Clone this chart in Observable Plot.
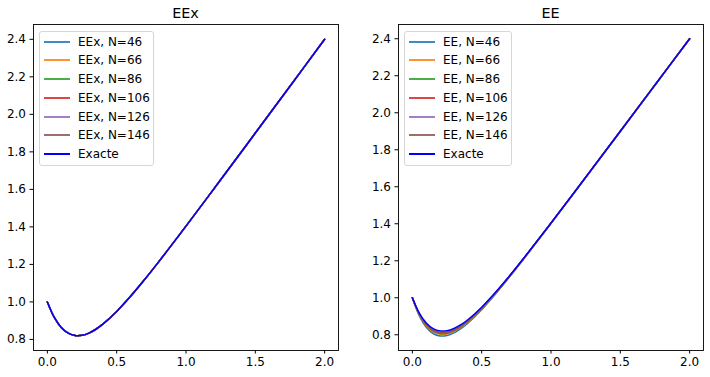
<!DOCTYPE html>
<html><head><meta charset="utf-8">
<script src="https://cdn.jsdelivr.net/npm/d3@7"></script>
<script src="https://cdn.jsdelivr.net/npm/@observablehq/plot@0.6"></script>
<style>
body{margin:0;background:#fff;font-family:"DejaVu Sans",sans-serif;color:#000;}
#root{position:relative;width:710px;height:377px;overflow:hidden;}
.panel{position:absolute;top:0;width:355px;height:377px;}
.panel svg{position:absolute;left:0;top:0;}
.title{position:absolute;top:4px;font-size:14.4px;line-height:18px;text-align:center;}
.legend{position:absolute;top:31px;height:135px;border:1px solid #d6d6d6;border-radius:3px;background:rgba(255,255,255,0.8);box-sizing:border-box;}
.row{position:absolute;left:0;height:18px;font-size:12px;line-height:18px;white-space:nowrap;}
.swatch{position:absolute;left:4px;top:8px;width:26px;height:2px;}
.lab{position:absolute;left:38px;top:0;}
</style>
</head><body><div id="root"></div>
<script>
// x sample positions
const xs = [0, 0.05, 0.1, 0.15, 0.2, 0.25, 0.3, 0.35, 0.4, 0.5, 0.6, 0.7, 0.8, 1.0, 1.25, 1.5, 1.75, 2.0];
// Exact solution
const exacte = [1.0, 0.9173, 0.8639, 0.8334, 0.8207, 0.8219, 0.8339, 0.8543, 0.8812, 0.9492, 1.0299, 1.1181, 1.2110, 1.4040, 1.6512, 1.9003, 2.1500, 2.4000];
// EEx (left panel) : visually identical to the exact curve for all N
const eex46  = [1.0, 0.9173, 0.8639, 0.8334, 0.8207, 0.8219, 0.8339, 0.8543, 0.8812, 0.9492, 1.0299, 1.1181, 1.2110, 1.4040, 1.6512, 1.9003, 2.1500, 2.4000];
const eex66  = [1.0, 0.9173, 0.8639, 0.8334, 0.8207, 0.8219, 0.8339, 0.8543, 0.8812, 0.9492, 1.0299, 1.1181, 1.2110, 1.4040, 1.6512, 1.9003, 2.1500, 2.4000];
const eex86  = [1.0, 0.9173, 0.8639, 0.8334, 0.8207, 0.8219, 0.8339, 0.8543, 0.8812, 0.9492, 1.0299, 1.1181, 1.2110, 1.4040, 1.6512, 1.9003, 2.1500, 2.4000];
const eex106 = [1.0, 0.9173, 0.8639, 0.8334, 0.8207, 0.8219, 0.8339, 0.8543, 0.8812, 0.9492, 1.0299, 1.1181, 1.2110, 1.4040, 1.6512, 1.9003, 2.1500, 2.4000];
const eex126 = [1.0, 0.9173, 0.8639, 0.8334, 0.8207, 0.8219, 0.8339, 0.8543, 0.8812, 0.9492, 1.0299, 1.1181, 1.2110, 1.4040, 1.6512, 1.9003, 2.1500, 2.4000];
const eex146 = [1.0, 0.9173, 0.8639, 0.8334, 0.8207, 0.8219, 0.8339, 0.8543, 0.8812, 0.9492, 1.0299, 1.1181, 1.2110, 1.4040, 1.6512, 1.9003, 2.1500, 2.4000];
// EE (right panel)
const ee46  = [1.0, 0.9022, 0.8409, 0.8069, 0.7936, 0.7959, 0.8100, 0.8329, 0.8625, 0.9355, 1.0202, 1.1115, 1.2065, 1.4021, 1.6503, 1.9001, 2.1500, 2.4000];
const ee66  = [1.0, 0.9074, 0.8487, 0.8158, 0.8026, 0.8044, 0.8177, 0.8397, 0.8684, 0.9397, 1.0231, 1.1134, 1.2078, 1.4026, 1.6507, 1.9002, 2.1500, 2.4000];
const ee86  = [1.0, 0.9099, 0.8525, 0.8202, 0.8071, 0.8087, 0.8217, 0.8432, 0.8715, 0.9420, 1.0247, 1.1145, 1.2085, 1.4029, 1.6508, 1.9002, 2.1500, 2.4000];
const ee106 = [1.0, 0.9114, 0.8548, 0.8228, 0.8098, 0.8113, 0.8240, 0.8454, 0.8733, 0.9434, 1.0256, 1.1152, 1.2090, 1.4031, 1.6509, 1.9002, 2.1500, 2.4000];
const ee126 = [1.0, 0.9124, 0.8563, 0.8246, 0.8116, 0.8130, 0.8256, 0.8468, 0.8746, 0.9443, 1.0263, 1.1156, 1.2093, 1.4033, 1.6509, 1.9002, 2.1500, 2.4000];
const ee146 = [1.0, 0.9131, 0.8574, 0.8258, 0.8129, 0.8143, 0.8268, 0.8479, 0.8755, 0.9450, 1.0268, 1.1160, 1.2095, 1.4034, 1.6509, 1.9002, 2.1500, 2.4000];

const Ns = [46, 66, 86, 106, 126, 146];
const colors = ["#1f77b4", "#ff7f0e", "#2ca02c", "#d62728", "#9467bd", "#8c564b"];
const exactColor = "#0000ff";
const xTicks = [0, 0.5, 1.0, 1.5, 2.0];
const yTicks = [0.8, 1.0, 1.2, 1.4, 1.6, 1.8, 2.0, 2.2, 2.4];

function rows(vals){ return xs.map((x,i)=>({x, y: vals[i]})); }

function panel(opts){
  const {left, title, prefix, series, ml, mr, ydom, legW} = opts;
  const div = document.createElement("div");
  div.className = "panel";
  div.style.left = left + "px";
  const marks = [];
  series.forEach((s,i)=>{
    marks.push(Plot.line(rows(s), {x:"x", y:"y", stroke: colors[i], strokeWidth:1.5, curve:"catmull-rom"}));
  });
  marks.push(Plot.line(rows(exacte), {x:"x", y:"y", stroke: exactColor, strokeWidth:1.5, curve:"catmull-rom"}));
  marks.push(Plot.frame({stroke:"#000", strokeWidth:0.9}));
  marks.push(Plot.axisX({ticks:xTicks, tickFormat:d3.format(".1f"), tickSize:3.5, tickPadding:3, fontSize:12, label:null, stroke:"#000"}));
  marks.push(Plot.axisY({ticks:yTicks, tickFormat:d3.format(".1f"), tickSize:3.5, tickPadding:4, fontSize:12, label:null, stroke:"#000"}));
  const svg = Plot.plot({
    width:355, height:377,
    marginTop:24, marginBottom:27, marginLeft:ml, marginRight:mr,
    x:{domain:[-0.1,2.1]},
    y:{domain:ydom},
    style:{fontFamily:"DejaVu Sans", fontSize:"12px", color:"#000", background:"transparent"},
    marks
  });
  div.appendChild(svg);
  const t = document.createElement("div");
  t.className = "title";
  t.style.left = ml + "px";
  t.style.width = (355 - ml - mr) + "px";
  t.textContent = title;
  div.appendChild(t);
  const lg = document.createElement("div");
  lg.className = "legend";
  lg.style.left = (ml + 6) + "px";
  lg.style.width = legW + "px";
  const labels = Ns.map(n => `${prefix}, N=${n}`).concat(["Exacte"]);
  const cols = colors.concat([exactColor]);
  labels.forEach((lab,i)=>{
    const r = document.createElement("div");
    r.className = "row";
    r.style.top = (0.7 + i*18.7) + "px";
    const sw = document.createElement("div");
    sw.className = "swatch";
    sw.style.background = cols[i];
    sw.style.opacity = i < 6 ? 0.85 : 1;
    const tx = document.createElement("div");
    tx.className = "lab";
    tx.textContent = lab;
    r.appendChild(sw); r.appendChild(tx);
    lg.appendChild(r);
  });
  div.appendChild(lg);
  document.getElementById("root").appendChild(div);
}

panel({left:0, title:"EEx", prefix:"EEx", series:[eex46,eex66,eex86,eex106,eex126,eex146], ml:33, mr:17, ydom:[0.741,2.479], legW:115});
panel({left:355, title:"EE", prefix:"EE", series:[ee46,ee66,ee86,ee106,ee126,ee146], ml:43, mr:7, ydom:[0.715,2.477], legW:108});
</script>
</body></html>
